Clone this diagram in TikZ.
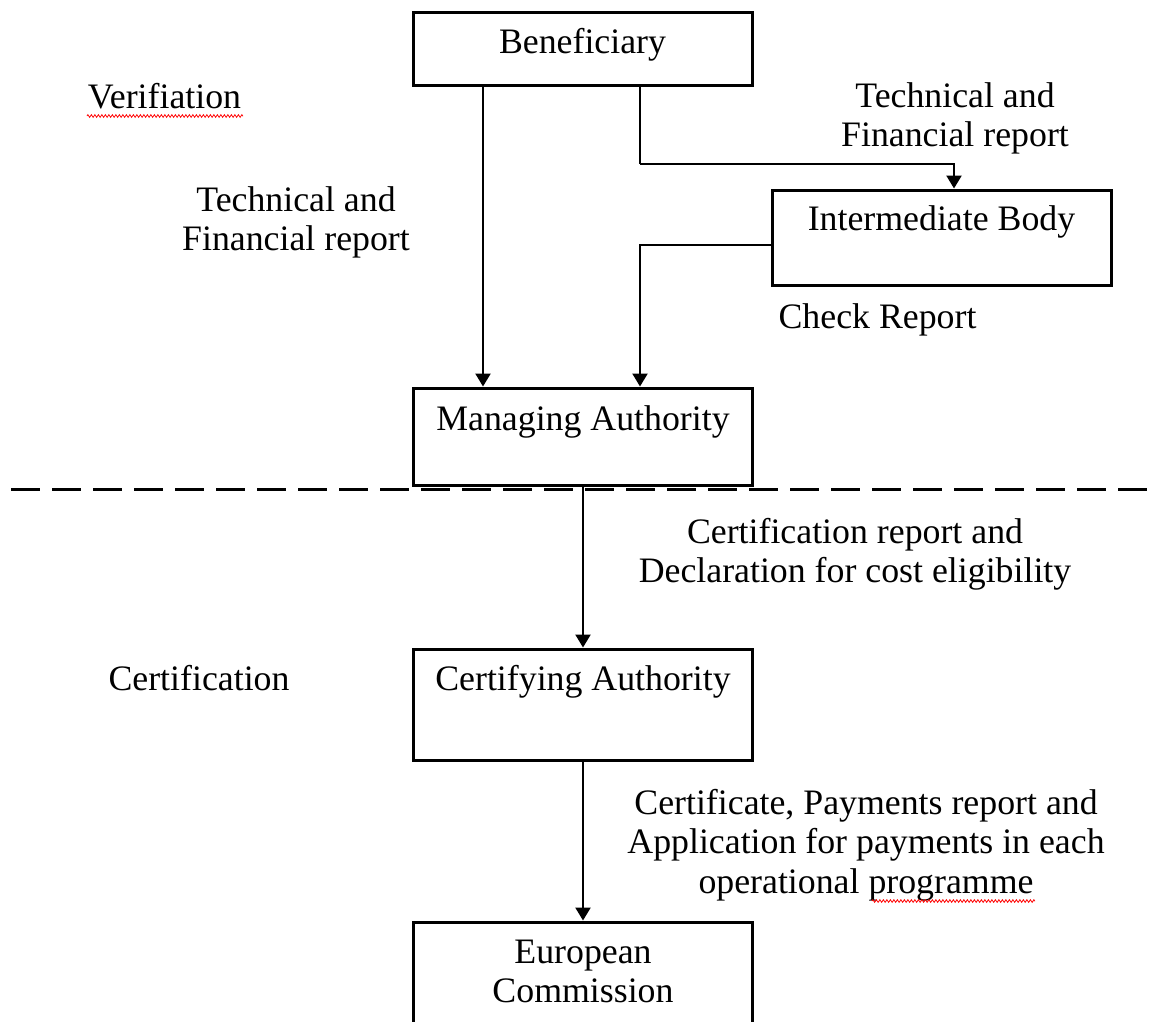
\documentclass[tikz,border=0pt]{standalone}
\usepackage{fontspec}
\setmainfont{Liberation Serif}
\usetikzlibrary{arrows.meta,decorations.pathmorphing}
\newcommand\mylines[1]{\begin{tabular}[t]{@{}c@{}}#1\end{tabular}}
\begin{document}
\begin{tikzpicture}[x=1pt,y=-1pt,
  every node/.style={font=\fontsize{35.8}{39.5}\selectfont},
  box/.style={draw,line width=3pt,inner sep=0pt,minimum width=339pt,anchor=base},
  txt/.style={inner sep=0pt,anchor=base},
  arr/.style={line width=2.3pt,-{Triangle[length=13pt,width=15pt]}},
  conn/.style={line width=2.3pt},
  squig/.style={red,line width=0.8pt,decorate,decoration={zigzag,amplitude=1.3pt,segment length=3.5pt}}]
\useasboundingbox (0,0) rectangle (1158,1021);
% boxes
\node[box,text height=41pt,text depth=32pt] (ben) at (582.5,53) {Beneficiary};
\node[box,text height=40pt,text depth=55pt] (ib) at (941.5,230) {Intermediate Body};
\node[box,text height=42pt,text depth=55pt] (ma) at (583,430) {Managing Authority};
\node[box,text height=41pt,text depth=70pt] (ca) at (583,690) {Certifying Authority};
\node[box,text height=41pt,text depth=120pt] (ec) at (583,963) {\mylines{European\\Commission}};
% labels
\node[txt] (verif) at (164.5,108) {Verifiation};
\node[txt] (lblL) at (296,211) {\mylines{Technical and\\Financial report}};
\node[txt] (lblR) at (955,107) {\mylines{Technical and\\Financial report}};
\node[txt] (chk) at (877.5,328) {Check Report};
\node[txt] (certif) at (199,690) {Certification};
\node[txt] (lblC) at (855,543) {\mylines{Certification report and\\Declaration for cost eligibility}};
\node[txt] (lblP) at (866,814) {\mylines{Certificate, Payments report and\\Application for payments in each\\operational programme}};
% spell-check underlines
\coordinate (sq1a) at (87,116); \coordinate (sq1b) at (243,116);
\coordinate (sq2a) at (872,901); \coordinate (sq2b) at (1035,901);
\draw[squig] (sq1a) -- (sq1b);
\draw[squig] (sq2a) -- (sq2b);
% helper coordinates
\coordinate (xL) at (483,0);
\coordinate (xM) at (640,0);
\coordinate (elbow1) at (640,164);
\coordinate (xIB) at (954,0);
\coordinate (ibout) at (ib.west |- 0,245);
% connectors
\draw[arr] (xL |- ben.south) -- (xL |- ma.north);
\draw[conn] (xM |- ben.south) -- (elbow1);
\draw[arr] (elbow1) -| (xIB |- ib.north);
\draw[arr] (ibout) -| (xM |- ma.north);
\draw[arr] (ma.south) -- (ca.north);
\draw[arr] (ca.south) -- (ec.north);
% dashed separator
\coordinate (dl) at (11,489); \coordinate (dr) at (1158,489);
\draw[line width=3pt,dash pattern=on 29pt off 12pt] (dl) -- (dr);
\end{tikzpicture}
\end{document}
